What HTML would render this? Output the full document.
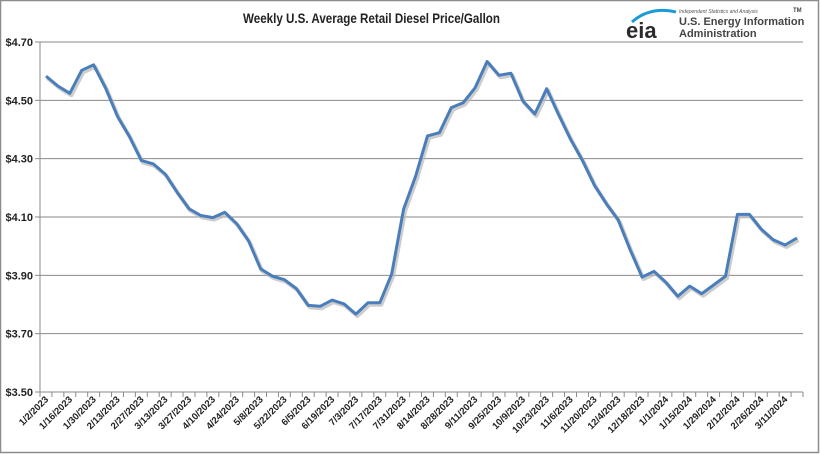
<!DOCTYPE html>
<html><head><meta charset="utf-8"><style>
html,body{margin:0;padding:0;background:#fff}
svg{display:block}
text{font-family:"Liberation Sans",sans-serif}
</style></head><body>
<svg id="c" width="820" height="454" viewBox="0 0 820 454" xmlns="http://www.w3.org/2000/svg">
<rect x="0.5" y="0.5" width="818" height="452" fill="#fff" stroke="#8c8c8c" stroke-width="1.5"/>
<text x="243" y="23" font-size="14" font-weight="bold" fill="#222" textLength="257" lengthAdjust="spacingAndGlyphs">Weekly U.S. Average Retail Diesel Price/Gallon</text>
<path d="M632 22 Q650 6 676 12" stroke="#1a9bd7" stroke-width="3" fill="none"/>
<text x="626" y="38" font-size="22" font-weight="bold" fill="#2b2b2b">eia</text>
<text x="679" y="13" font-size="5" font-style="italic" fill="#555">Independent Statistics and Analysis</text>
<text x="793" y="12" font-size="6" font-weight="bold" fill="#444">TM</text>
<text x="679" y="25" font-size="11" font-weight="bold" fill="#444">U.S. Energy Information</text>
<text x="679" y="37" font-size="11" font-weight="bold" fill="#444">Administration</text>
<g id="grid"></g>
<g id="series"></g>
</svg>
<script>
var d=[4.583,4.549,4.524,4.603,4.622,4.542,4.445,4.376,4.294,4.282,4.247,4.185,4.128,4.105,4.098,4.116,4.077,4.018,3.922,3.897,3.885,3.855,3.797,3.794,3.815,3.802,3.767,3.806,3.806,3.905,4.127,4.239,4.378,4.389,4.475,4.492,4.543,4.633,4.586,4.593,4.498,4.453,4.540,4.451,4.367,4.294,4.209,4.146,4.090,3.988,3.894,3.914,3.876,3.828,3.863,3.837,3.867,3.897,4.109,4.109,4.058,4.022,4.004,4.028];
var x0=40,x1=803,n=64,w=(x1-x0)/n;
function Y(v){return 42+(4.7-v)*291.67}
var g=document.getElementById('grid'),h='';
for(var i=0;i<=6;i++){var v=4.7-i*0.2,y=Y(v);
 if(i<6)h+='<line x1="'+x0+'" x2="'+x1+'" y1="'+y+'" y2="'+y+'" stroke="#8a8a8a" stroke-width="1"/>';
 h+='<line x1="35" x2="'+x0+'" y1="'+y+'" y2="'+y+'" stroke="#8a8a8a"/>';
 h+='<text x="33" y="'+(y+4)+'" text-anchor="end" font-size="11" font-weight="bold" fill="#222">$'+v.toFixed(2)+'</text>';}
h+='<line x1="'+x0+'" x2="'+x0+'" y1="42" y2="392" stroke="#8a8a8a"/>';
h+='<line x1="'+x0+'" x2="'+x1+'" y1="392" y2="392" stroke="#8a8a8a"/>';
for(var i=0;i<=n;i++){var x=x0+i*w;h+='<line x1="'+x+'" x2="'+x+'" y1="392" y2="397" stroke="#8a8a8a"/>';}
var dt=new Date(2023,0,2);
for(var i=0;i<n;i++){if(i%2==0){var s=(dt.getMonth()+1)+'/'+dt.getDate()+'/'+dt.getFullYear();
 var x=x0+(i+0.5)*w+3;h+='<text transform="translate('+x+',400) rotate(-45)" text-anchor="end" font-size="9.5" font-weight="bold" fill="#222">'+s+'</text>';}
 dt.setDate(dt.getDate()+7);}
g.innerHTML=h;
var p='';for(var i=0;i<n;i++){p+=(i?'L':'M')+(x0+(i+0.5)*w).toFixed(1)+' '+Y(d[i]).toFixed(1);}
document.getElementById('series').innerHTML='<path d="'+p+'" transform="translate(1.5,2)" stroke="#b8b8b8" stroke-width="4" fill="none" stroke-linejoin="round" opacity="0.7"/><path d="'+p+'" stroke="#4a7ebb" stroke-width="3" fill="none" stroke-linejoin="round"/>';
</script>
</body></html>
